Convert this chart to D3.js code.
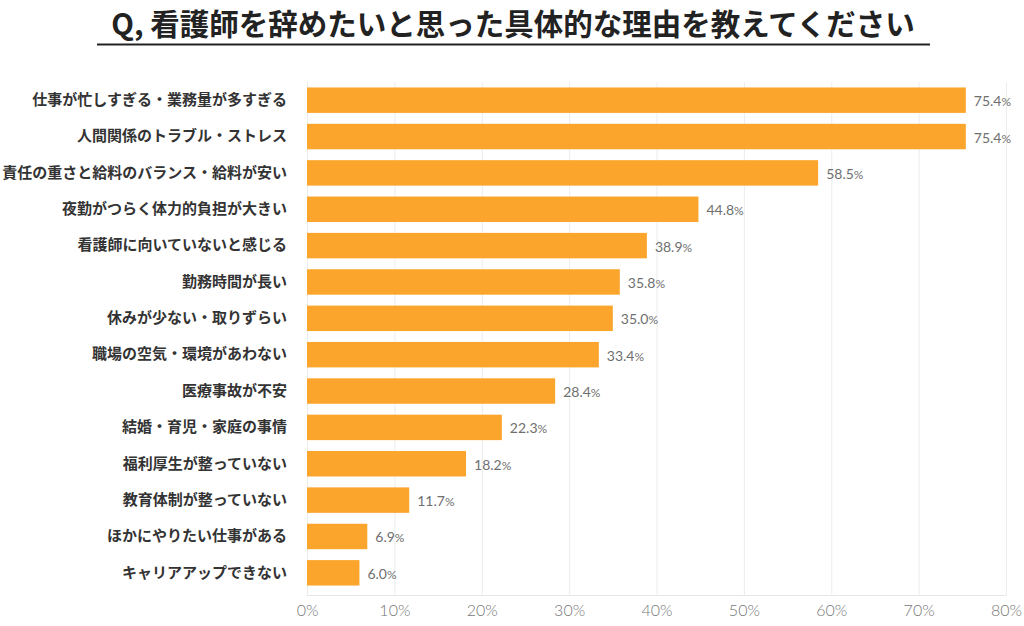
<!DOCTYPE html>
<html><head><meta charset="utf-8">
<script src="https://cdn.jsdelivr.net/npm/d3@7"></script>
<style>body{margin:0;background:#fff}svg{display:block}</style>
</head><body><svg id="c" width="1024" height="626"></svg>
<script>
const titleText = "Q, 看護師を辞めたいと思った具体的な理由を教えてください";
const categories = ["仕事が忙しすぎる・業務量が多すぎる","人間関係のトラブル・ストレス","責任の重さと給料のバランス・給料が安い","夜勤がつらく体力的負担が大きい","看護師に向いていないと感じる","勤務時間が長い","休みが少ない・取りずらい","職場の空気・環境があわない","医療事故が不安","結婚・育児・家庭の事情","福利厚生が整っていない","教育体制が整っていない","ほかにやりたい仕事がある","キャリアアップできない"];
const values = [75.4,75.4,58.5,44.8,38.9,35.8,35.0,33.4,28.4,22.3,18.2,11.7,6.9,6.0];
const tickValues = [0,10,20,30,40,50,60,70,80];

(function(){
const svg = d3.select("#c");
const L = 307, R = 1006, T = 82, B = 591;
const x = d3.scaleLinear().domain([0,80]).range([L,R]);
const y = d3.scaleBand().domain(categories).range([T,B]).paddingInner(0.3).paddingOuter(0.15);

svg.append("text").attr("x",513).attr("y",34.5).attr("text-anchor","middle")
  .attr("font-family","'Noto Sans CJK JP'").attr("font-weight",700).attr("font-size",29.5)
  .attr("fill","#222").text(titleText);
svg.append("line").attr("x1",97).attr("x2",930).attr("y1",44.5).attr("y2",44.5)
  .attr("stroke","#222").attr("stroke-width",2);

svg.append("g").selectAll("line").data(tickValues).join("line")
  .attr("x1",d=>x(d)+0.5).attr("x2",d=>x(d)+0.5).attr("y1",T).attr("y2",595)
  .attr("stroke","#ececec").attr("stroke-width",1);
svg.append("line").attr("x1",L).attr("x2",R+0.5).attr("y1",595.5).attr("y2",595.5)
  .attr("stroke","#e6e6e6");

const xa = svg.append("g").attr("transform","translate(0,595)")
  .call(d3.axisBottom(x).tickValues(tickValues).tickFormat(d=>d+"%").tickSize(0).tickPadding(10));
xa.select(".domain").remove();
xa.selectAll("text").attr("font-family","'Lato'").attr("font-size",16).attr("fill","#777").attr("font-weight",300);

svg.append("g").selectAll("rect").data(values).join("rect")
  .attr("x",x(0)).attr("y",(d,i)=>y(categories[i])).attr("width",d=>x(d)-x(0)).attr("height",y.bandwidth())
  .attr("fill","#FBA52C");

const ya = svg.append("g").attr("transform",`translate(${L},0)`)
  .call(d3.axisLeft(y).tickSize(0).tickPadding(20));
ya.select(".domain").remove();
ya.selectAll("text").attr("font-family","'Noto Sans CJK JP'").attr("font-size",15).attr("font-weight",700).attr("fill","#333");

const vl = svg.append("g").selectAll("text").data(values).join("text")
  .attr("x",d=>x(d)+8).attr("y",(d,i)=>y(categories[i])+y.bandwidth()/2+6)
  .attr("font-family","'Lato'").attr("font-size",14).attr("fill","#6f6f6f");
vl.append("tspan").text(d=>d.toFixed(1));
vl.append("tspan").attr("font-size",12).text("%");
})();
</script></body></html>
